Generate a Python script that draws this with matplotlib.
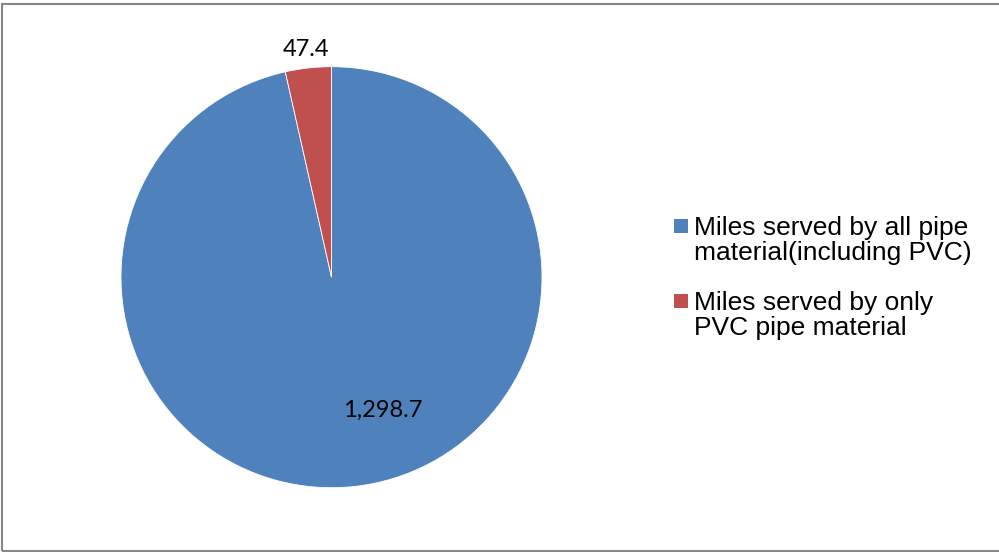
import numpy as np
import matplotlib
matplotlib.use("Agg")
import matplotlib.pyplot as plt
from matplotlib.patches import Rectangle

categories = ["Miles served by all pipe\nmaterial(including PVC)",
              "Miles served by only\nPVC pipe material"]
values = [1298.7, 47.4]
colors = ["#4F81BD", "#C0504D"]
value_labels = ["1,298.7", "47.4"]

W, H = 999, 552
fig = plt.figure(figsize=(W / 100, H / 100), dpi=100)
fig.patch.set_facecolor("white")

# outer frame
fig.add_artist(Rectangle((1.5 / W, 1.5 / H), 1.2, (548 - 1.5) / H,
                         transform=fig.transFigure, fill=False,
                         edgecolor="#868686", linewidth=1.5))

cx, cy, r = 331.5, 552 - 277.2, 210.5
ax = fig.add_axes([(cx - r) / W, (cy - r) / H, 2 * r / W, 2 * r / H])
wedges, _ = ax.pie(values, colors=colors, startangle=90, counterclock=False,
                   radius=1.0,
                   wedgeprops=dict(edgecolor="white", linewidth=0.6))
ax.set_xlim(-1, 1)
ax.set_ylim(-1, 1)
ax.set_aspect("equal")
ax.axis("off")

# data labels
ax.text(0.245, -0.631, value_labels[0], ha="center", va="center",
        fontsize=17, family="Lato", color="black")
total = sum(values)
mid = np.deg2rad(90 + 0.5 * values[1] / total * 360)
ax.text(1.095 * np.cos(mid), 1.09 * np.sin(mid), value_labels[1],
        ha="center", va="center", fontsize=17, family="Lato", color="black")

# legend
fs = 19
first_baselines = [232.7, 307.7]
last_baselines = [260.0, 335.0]
for lab, col, fb, lb in zip(categories, colors, first_baselines, last_baselines):
    fig.add_artist(Rectangle((674 / W, (H - fb) / H), 14 / W, 14 / H,
                             transform=fig.transFigure, facecolor=col,
                             edgecolor="none"))
    fig.text(694 / W, (H - lb) / H, lab, ha="left", va="baseline",
             fontsize=fs, family="Liberation Sans", color="black",
             linespacing=1.07)

fig.savefig("out.png", dpi=100)
